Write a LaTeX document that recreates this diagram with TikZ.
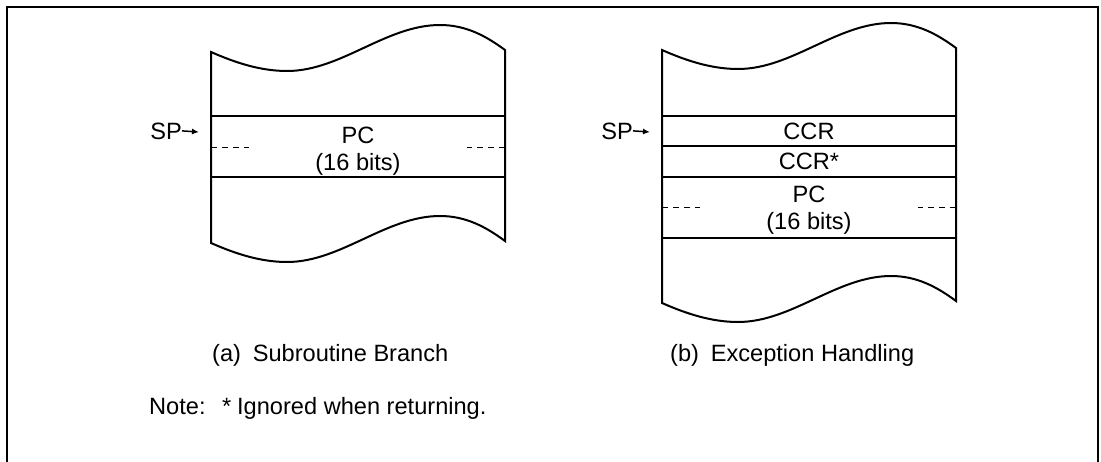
\documentclass[tikz,border=0pt]{standalone}
\usepackage{fontspec}
\setmainfont{Liberation Sans}
\usetikzlibrary{arrows.meta}
\tikzset{
  lbl/.style={font=\fontsize{23.6}{27}\selectfont, inner sep=0pt, anchor=base},
  frame/.style={line width=2pt},
  memline/.style={line width=2pt, line join=miter},
  dashline/.style={line width=1pt, dash pattern=on 6pt off 5pt},
  sparrow/.style={line width=1.5pt, -{Latex[length=7pt,width=6pt]}},
}
\begin{document}
\begin{tikzpicture}[x=1pt,y=-1pt]
\useasboundingbox (0,0) rectangle (1101,461);
% outer frame (bottom edge lies outside the picture)
\draw[frame] (7,475) -- (7,7) -- (1098,7) -- (1098,475);

% ---------- (a) Subroutine Branch ----------
\begin{scope}[shift={(211,52)}]
  \draw[memline] (0,0) .. controls (25,11) and (50,19) .. (76,19)
    .. controls (130,19) and (175,-27) .. (229,-27)
    .. controls (255,-27) and (275,-16) .. (294,-2)
    -- (294,189)
    .. controls (275,175) and (255,164) .. (229,164)
    .. controls (175,164) and (130,210) .. (76,210)
    .. controls (50,210) and (25,202) .. (0,191) -- cycle;
\end{scope}
\draw[memline] (211,116) -- (505,116);
\draw[memline] (211,177) -- (505,177);
\draw[dashline] (211,147) -- (249,147);
\draw[dashline] (505,147) -- (467,147);
\node[lbl] (pcA) at (358,143) {PC};
\node[lbl] (bitsA) at (358,170) {(16 bits)};
\node[lbl, anchor=base east] (spA) at (182,139) {SP};
\coordinate (spAtip) at (199,132);
\draw[sparrow] (spA.east) -- (spAtip);
\node[lbl, anchor=base west] (capA) at (212,361) {(a)\hspace{0.5em}Subroutine Branch};

% ---------- (b) Exception Handling ----------
\begin{scope}[shift={(662,50)}]
  \draw[memline] (0,0) .. controls (25,11) and (50,19) .. (76,19)
    .. controls (130,19) and (175,-27) .. (229,-27)
    .. controls (255,-27) and (275,-16) .. (294,-2)
    -- (294,251)
    .. controls (275,237) and (255,226) .. (229,226)
    .. controls (175,226) and (130,272) .. (76,272)
    .. controls (50,272) and (25,264) .. (0,253) -- cycle;
\end{scope}
\draw[memline] (662,116) -- (956,116);
\draw[memline] (662,146) -- (956,146);
\draw[memline] (662,177) -- (956,177);
\draw[memline] (662,238) -- (956,238);
\draw[dashline] (662,207) -- (700,207);
\draw[dashline] (956,207) -- (918,207);
\node[lbl] (ccrB) at (809,139) {CCR};
\node[lbl] (ccrsB) at (809,169) {CCR*};
\node[lbl] (pcB) at (809,202) {PC};
\node[lbl] (bitsB) at (809,229) {(16 bits)};
\node[lbl, anchor=base east] (spB) at (633,139) {SP};
\coordinate (spBtip) at (650,132);
\draw[sparrow] (spB.east) -- (spBtip);
\node[lbl, anchor=base west] (capB) at (670,361) {(b)\hspace{0.5em}Exception Handling};

% ---------- note ----------
\node[lbl, anchor=base west] (note) at (149,414) {Note:\hspace{0.7em}*\hspace{0.25em}Ignored when returning.};
\end{tikzpicture}
\end{document}
